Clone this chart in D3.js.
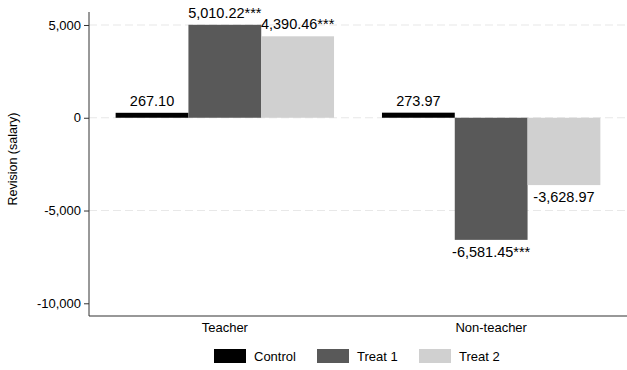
<!DOCTYPE html>
<html>
<head>
<meta charset="utf-8">
<script src="https://cdn.jsdelivr.net/npm/d3@7"></script>
<style>
  body { margin: 0; background: #fff; }
  text { font-family: "Liberation Sans", Arial, sans-serif; fill: #000; }
</style>
</head>
<body>
<div id="chart"></div>
<script>
// Data
const groups = ['Teacher', 'Non-teacher'];
const series = ['Control', 'Treat 1', 'Treat 2'];
const control = [267.10, 273.97];
const treat1 = [5010.22, -6581.45];
const treat2 = [4390.46, -3628.97];
const stars = [['', '***', '***'], ['', '***', '']];
const yTicks = [5000, 0, -5000, -10000];
const colors = ['#000000', '#595959', '#d0d0d0'];

const W = 627, H = 370;
const margin = { top: 12, right: 0, bottom: 54, left: 89 };
const width = W - margin.left - margin.right;
const height = H - margin.top - margin.bottom;

// Plain hyphen for negatives, like the original
const locale = d3.formatLocale({ decimal: '.', thousands: ',', grouping: [3], currency: ['', ''], minus: '-' });
const fmt = locale.format(',.2f');
const tickFmt = locale.format(',');

const svg = d3.select('#chart')
    .append('svg')
    .attr('width', W)
    .attr('height', H)
    .append('g')
    .attr('transform', `translate(${margin.left}, ${margin.top})`);

// Scales
const x0 = d3.scaleBand()
    .domain(groups)
    .range([0, width])
    .paddingInner(0.18)
    .paddingOuter(0.1);

const x1 = d3.scaleBand()
    .domain(series)
    .range([0, x0.bandwidth()]);

const y = d3.scaleLinear()
    .domain([-10685, 5700])
    .range([height, 0]);

// Grid lines
svg.append('g')
    .selectAll('line')
    .data(yTicks.filter(d => d !== -10000))
    .enter()
    .append('line')
    .attr('x1', 0)
    .attr('x2', width)
    .attr('y1', d => y(d))
    .attr('y2', d => y(d))
    .attr('stroke', '#e8e8e8')
    .attr('stroke-width', 1.2)
    .attr('stroke-dasharray', '8,4');

// Bars
const rows = groups.map((g, i) => ({
    group: g,
    values: [control[i], treat1[i], treat2[i]].map((v, j) => ({ key: series[j], value: v, star: stars[i][j], color: colors[j] }))
}));

const gGroup = svg.selectAll('.group')
    .data(rows)
    .enter()
    .append('g')
    .attr('class', 'group')
    .attr('transform', d => `translate(${x0(d.group)}, 0)`);

gGroup.selectAll('rect')
    .data(d => d.values)
    .enter()
    .append('rect')
    .attr('x', d => x1(d.key))
    .attr('width', x1.bandwidth())
    .attr('y', d => y(Math.max(0, d.value)))
    .attr('height', d => Math.abs(y(d.value) - y(0)))
    .attr('fill', d => d.color);

// Value labels
gGroup.selectAll('.val')
    .data(d => d.values)
    .enter()
    .append('text')
    .attr('class', 'val')
    .attr('x', d => x1(d.key) + x1.bandwidth() / 2)
    .attr('y', d => d.value >= 0 ? y(d.value) - 7 : y(d.value) + 17)
    .attr('text-anchor', 'middle')
    .style('font-size', '14.5px')
    .text(d => fmt(d.value) + d.star);

// Y axis
const yAxis = d3.axisLeft(y)
    .tickValues(yTicks)
    .tickFormat(tickFmt)
    .tickSize(5)
    .tickPadding(3);

const yG = svg.append('g')
    .call(yAxis);
yG.select('.domain').attr('stroke', '#333').attr('d', `M0,0V${height}`);
yG.selectAll('.tick line').attr('stroke', '#333');
yG.selectAll('.tick text')
    .style('font-size', '13px')
    .style('font-family', '"Liberation Sans", Arial, sans-serif')
    .attr('fill', '#000');

// X axis line
svg.append('line')
    .attr('x1', 0)
    .attr('x2', width)
    .attr('y1', height)
    .attr('y2', height)
    .attr('stroke', '#333')
    .attr('stroke-width', 1.2);

// X labels
svg.selectAll('.xlab')
    .data(groups)
    .enter()
    .append('text')
    .attr('class', 'xlab')
    .attr('x', d => x0(d) + x0.bandwidth() / 2)
    .attr('y', height + 16)
    .attr('text-anchor', 'middle')
    .style('font-size', '13px')
    .text(d => d);

// Y title
svg.append('text')
    .attr('transform', `translate(${-72}, ${height / 2 - 5}) rotate(-90)`)
    .attr('text-anchor', 'middle')
    .style('font-size', '12.5px')
    .text('Revision (salary)');

// Legend
const legendX = [214 - margin.left, 317 - margin.left, 419 - margin.left];
const legend = svg.selectAll('.legend')
    .data(series)
    .enter()
    .append('g')
    .attr('class', 'legend')
    .attr('transform', (d, i) => `translate(${legendX[i]}, ${349 - margin.top})`);

legend.append('rect')
    .attr('width', 32)
    .attr('height', 14)
    .attr('fill', (d, i) => colors[i]);

legend.append('text')
    .attr('x', 40)
    .attr('y', 12)
    .style('font-size', '13px')
    .text(d => d);
</script>
</body>
</html>
